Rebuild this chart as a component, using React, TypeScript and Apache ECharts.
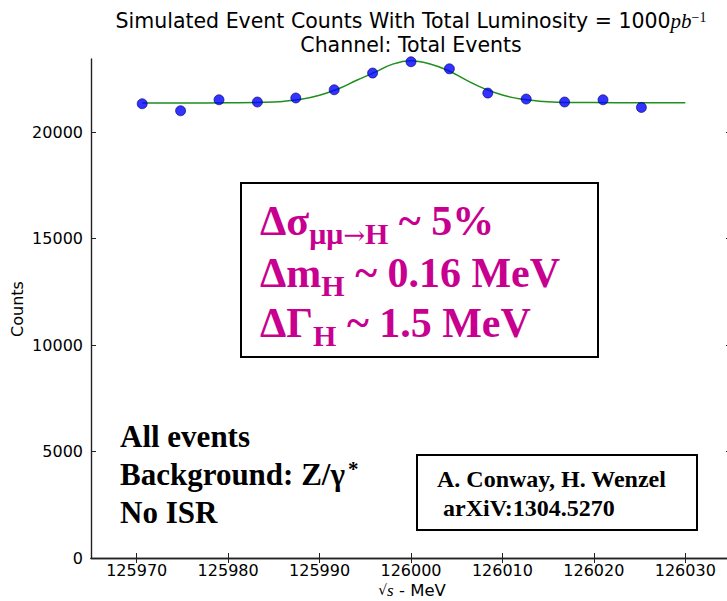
import { useEffect, useRef } from "react";
import * as echarts from "echarts";

// Measured event counts per beam energy point
const pointEnergies = [
  125970.6, 125974.8, 125979.0, 125983.2, 125987.4, 125991.6, 125995.8,
  126000.0, 126004.2, 126008.4, 126012.6, 126016.8, 126021.0, 126025.2,
];
const pointCounts = [
  21330, 21000, 21515, 21410, 21600, 21985, 22770,
  23300, 22970, 21830, 21550, 21410, 21515, 21155,
];

// Fitted line shape
const fitEnergies = [
  125970.6, 125975, 125980, 125984, 125986, 125988, 125990, 125992, 125994,
  125996, 125998, 126000, 126002, 126004, 126006, 126008, 126010, 126012,
  126014, 126016, 126020, 126025, 126030,
];
const fitCounts = [
  21360, 21365, 21375, 21395, 21440, 21540, 21730, 22020, 22420,
  22800, 23190, 23350, 23210, 22900, 22450, 22040, 21740, 21550,
  21450, 21405, 21385, 21380, 21380,
];

const xTicks = [125970, 125980, 125990, 126000, 126010, 126020, 126030];
const yTicks = [0, 5000, 10000, 15000, 20000];

const SANS = "DejaVu Sans";
const SERIF = "Liberation Serif";
const MAGENTA = "#c8008f";

export default function App() {
  const ref = useRef<HTMLDivElement>(null);

  useEffect(() => {
    if (!ref.current) return;
    const chart = echarts.init(ref.current, null, { renderer: "svg" });

    const axisLine = { show: true, lineStyle: { color: "#222", width: 1.4 } };
    const tick = (vals: number[]) => ({
      show: true,
      inside: true,
      length: 5,
      customValues: vals,
      lineStyle: { color: "#222", width: 1 },
    });
    const label = (vals: number[], margin: number) => ({
      show: true,
      customValues: vals,
      formatter: (v: number) => String(v),
      fontFamily: SANS,
      fontSize: 16,
      color: "#000",
      margin,
    });

    const magentaRich = {
      m: { fontFamily: SERIF, fontWeight: "bold" as const, fontSize: 42, lineHeight: 54, fill: MAGENTA },
      s: {
        fontFamily: SERIF,
        fontWeight: "bold" as const,
        fontSize: 30,
        lineHeight: 10,
        verticalAlign: "bottom" as const,
        fill: MAGENTA,
      },
      a: {
        fontFamily: "DejaVu Serif",
        fontSize: 26,
        lineHeight: 10,
        verticalAlign: "bottom" as const,
        fill: MAGENTA,
      },
    };

    const boldSerif = (size: number) => ({
      fontFamily: SERIF,
      fontWeight: "bold" as const,
      fontSize: size,
      fill: "#000",
    });

    chart.setOption({
      animation: false,
      backgroundColor: "#fff",
      grid: { left: 91, top: 59, width: 640, height: 499, containLabel: false },
      xAxis: [
        {
          type: "value",
          min: 125965,
          max: 126035,
          position: "bottom",
          axisLine,
          axisTick: tick(xTicks),
          axisLabel: label(xTicks, 4),
          splitLine: { show: false },
        },
        {
          type: "value",
          min: 125965,
          max: 126035,
          position: "top",
          axisLine,
          axisTick: tick(xTicks),
          axisLabel: { show: false },
          splitLine: { show: false },
        },
      ],
      yAxis: [
        {
          type: "value",
          min: 0,
          max: 23430,
          position: "left",
          axisLine,
          axisTick: tick(yTicks),
          axisLabel: label(yTicks, 8),
          splitLine: { show: false },
        },
        {
          type: "value",
          min: 0,
          max: 23430,
          position: "right",
          axisLine,
          axisTick: tick(yTicks),
          axisLabel: { show: false },
          splitLine: { show: false },
        },
      ],
      series: [
        {
          type: "line",
          xAxisIndex: 0,
          yAxisIndex: 0,
          data: fitEnergies.map((e, i) => [e, fitCounts[i]]),
          smooth: 0.4,
          showSymbol: false,
          lineStyle: { color: "#1c8f1c", width: 1.5 },
          z: 2,
        },
        {
          type: "scatter",
          xAxisIndex: 0,
          yAxisIndex: 0,
          data: pointEnergies.map((e, i) => [e, pointCounts[i]]),
          symbol: "circle",
          symbolSize: 10,
          clip: false,
          itemStyle: { color: "#0000ff", borderColor: "#000066", borderWidth: 0.8 },
          z: 3,
        },
      ],
      graphic: [
        {
          type: "text",
          x: 411,
          y: 21,
          style: {
            text: "{a|Simulated Event Counts With Total Luminosity = 1000}{b|pb}{c|−1}",
            align: "center",
            verticalAlign: "middle",
            rich: {
              a: { fontFamily: SANS, fontSize: 20.5, fill: "#000" },
              b: { fontFamily: SERIF, fontStyle: "italic", fontSize: 21, fill: "#000" },
              c: { fontFamily: SERIF, fontSize: 14, fill: "#000", verticalAlign: "top", lineHeight: 16 },
            },
          },
        },
        {
          type: "text",
          x: 411,
          y: 45,
          style: {
            text: "Channel: Total Events",
            fontFamily: SANS,
            fontSize: 20.5,
            fill: "#000",
            align: "center",
            verticalAlign: "middle",
          },
        },
        {
          type: "text",
          x: 17,
          y: 309,
          rotation: Math.PI / 2,
          style: {
            text: "Counts",
            fontFamily: SANS,
            fontSize: 16,
            fill: "#000",
            align: "center",
            verticalAlign: "middle",
          },
        },
        {
          type: "text",
          x: 412,
          y: 590,
          style: {
            text: "{r|√}{s|s}{t| - MeV}",
            align: "center",
            verticalAlign: "middle",
            rich: {
              r: { fontFamily: SANS, fontSize: 14, fill: "#000" },
              s: { fontFamily: SERIF, fontStyle: "italic", fontSize: 17, fill: "#000" },
              t: { fontFamily: SANS, fontSize: 16.5, fill: "#000" },
            },
          },
        },
        // uncertainty box
        {
          type: "rect",
          shape: { x: 241, y: 183, width: 357, height: 174 },
          style: { fill: "#fff", stroke: "#000", lineWidth: 2 },
          z: 10,
        },
        {
          type: "text",
          x: 260,
          y: 194,
          z: 11,
          style: { text: "{m|Δσ}{s|μμ}{a|→}{s|H}{m| ~ 5%}", rich: magentaRich, verticalAlign: "top" },
        },
        {
          type: "text",
          x: 260,
          y: 246,
          z: 11,
          style: { text: "{m|Δm}{s|H}{m| ~ 0.16 MeV}", rich: magentaRich, verticalAlign: "top" },
        },
        {
          type: "text",
          x: 260,
          y: 296,
          z: 11,
          style: { text: "{m|ΔΓ}{s|H}{m| ~ 1.5 MeV}", rich: magentaRich, verticalAlign: "top" },
        },
        // sample description
        {
          type: "text",
          x: 120,
          y: 417,
          z: 11,
          style: {
            text: "All events\nBackground: Z/γ\nNo ISR",
            ...boldSerif(31),
            lineHeight: 38,
            verticalAlign: "top",
          },
        },
        {
          type: "text",
          x: 348,
          y: 469,
          z: 11,
          style: { text: "*", ...boldSerif(21), verticalAlign: "middle" },
        },
        // reference box
        {
          type: "rect",
          shape: { x: 417, y: 455, width: 280, height: 75 },
          style: { fill: "#fff", stroke: "#000", lineWidth: 2 },
          z: 10,
        },
        {
          type: "text",
          x: 437,
          y: 479,
          z: 11,
          style: { text: "A. Conway, H. Wenzel", ...boldSerif(24), verticalAlign: "middle" },
        },
        {
          type: "text",
          x: 443,
          y: 508,
          z: 11,
          style: { text: "arXiV:1304.5270", ...boldSerif(24), verticalAlign: "middle" },
        },
      ],
    });

    return () => chart.dispose();
  }, []);

  return (
    <div
      ref={ref}
      style={{ position: "fixed", left: 0, top: 0, width: 740, height: 601, background: "#fff" }}
    />
  );
}
